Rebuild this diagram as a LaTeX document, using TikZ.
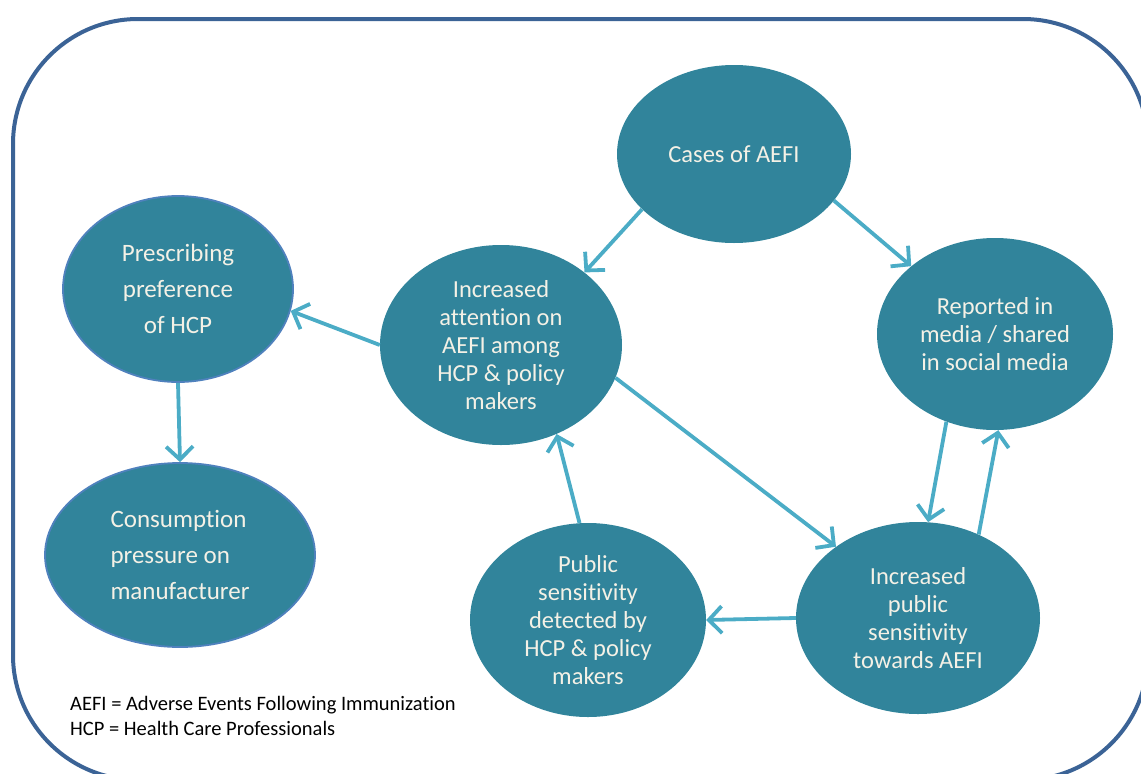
\documentclass[tikz,border=0pt]{standalone}
\usepackage{fontspec}
\setmainfont{Carlito}[Ligatures=NoCommon]
\usetikzlibrary{shapes.geometric,arrows.meta}
\definecolor{framecol}{HTML}{3B6396}
\definecolor{nodefill}{HTML}{31849B}
\definecolor{nodeedge}{HTML}{4F81BD}
\definecolor{arrowcol}{HTML}{4BACC6}
\definecolor{nodetext}{HTML}{F4F1E6}
\tikzset{
  bubble/.style={ellipse, fill=nodefill, inner sep=0pt, text=nodetext, align=center,
     font=\fontsize{24.5}{28}\selectfont},
  bubbleedge/.style={bubble, draw=nodeedge, line width=1.8pt, font=\fontsize{25}{36}\selectfont},
  flow/.style={draw=arrowcol, line width=3.8pt,
     -{Straight Barb[length=13pt,width=27pt,line width=3.8pt]}},
}
\begin{document}
\begin{tikzpicture}[x=1pt,y=-1pt]
\useasboundingbox (0,0) rectangle (1141,774);
\begin{scope}
\clip (0,0) rectangle (1141,774);
\draw[framecol, line width=4pt, rounded corners=125pt] (13,19) rectangle (1148,780);
\end{scope}

\node[bubble, minimum width=234pt, minimum height=178pt] (cases) at (734,154) {Cases of AEFI};
\node[bubble, minimum width=242pt, minimum height=200pt] (attn) at (501,345)
  {Increased\\attention on\\AEFI among\\HCP \& policy\\makers};
\node[bubble, minimum width=236pt, minimum height=192pt] (media) at (995,334)
  {Reported in\\media / shared\\in social media};
\node[bubbleedge, minimum width=230pt, minimum height=186pt] (presc) at (178,289)
  {Prescribing\\preference\\of HCP};
\node[bubbleedge, minimum width=270pt, minimum height=184pt, align=left] (cons) at (180,555)
  {Consumption\\pressure on\\manufacturer};
\node[bubble, minimum width=236pt, minimum height=194pt] (detect) at (588,620)
  {Public\\sensitivity\\detected by\\HCP \& policy\\makers};
\node[bubble, minimum width=244pt, minimum height=192pt] (pub) at (918,618)
  {Increased\\public\\sensitivity\\towards AEFI};

\draw[flow] (cases.211) -- (attn.41);
\draw[flow] (cases.-25) -- (media.141.6);
\draw[flow] (attn.180) -- (presc.-11.4);
\draw[flow] (presc.-90) -- (cons.90);
\draw[flow] (attn.-16) -- (pub.139);
\draw[flow] (media.241.4) -- (pub.84.6);
\draw[flow] (pub.54) -- (media.-88.8);
\draw[flow] (pub.180) -- (detect.0);
\draw[flow] (detect.95) -- (attn.-58);

\node[anchor=north west, align=left, inner sep=0pt, text=black,
  font=\fontsize{20.5}{25}\selectfont] (legend) at (70,696)
  {AEFI = Adverse Events Following Immunization\\HCP = Health Care Professionals};
\end{tikzpicture}
\end{document}
